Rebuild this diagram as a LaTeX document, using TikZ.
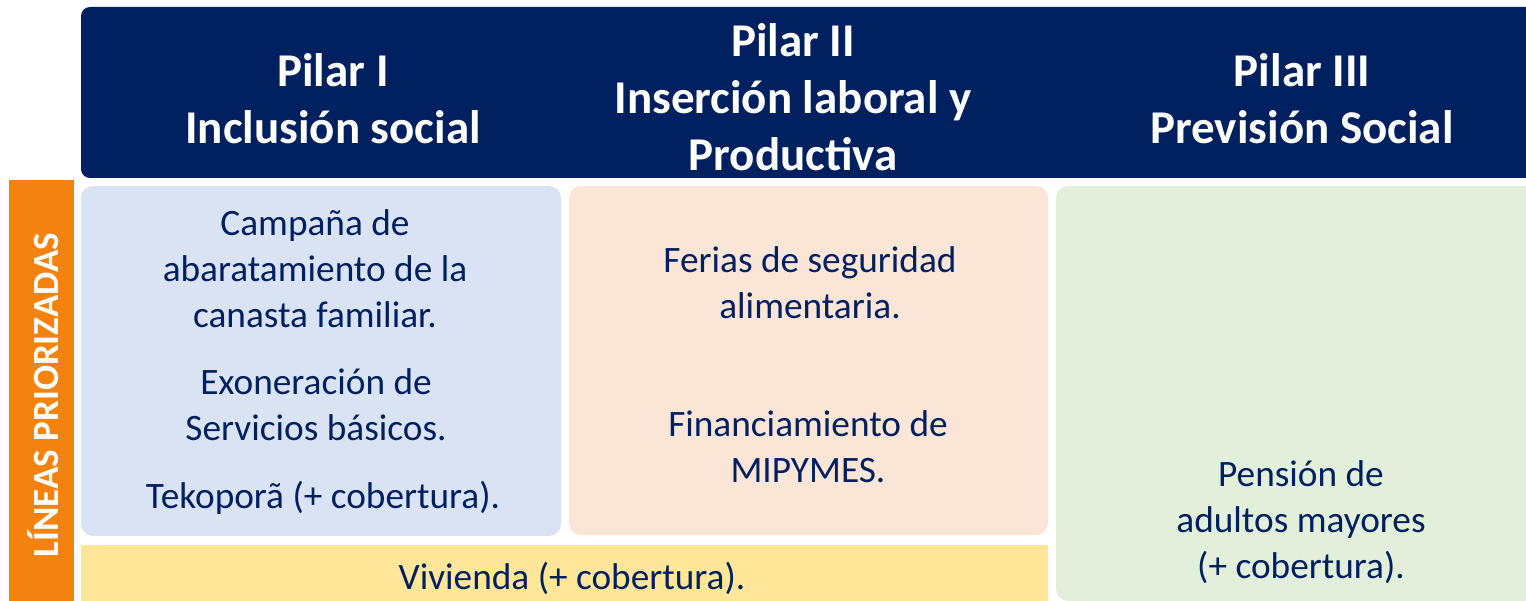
\documentclass[tikz,border=0pt]{standalone}
\usepackage{fontspec}
\setmainfont{Carlito}
\definecolor{navy}{HTML}{002060}
\definecolor{orangebar}{HTML}{F4820F}
\definecolor{boxblue}{HTML}{DAE3F3}
\definecolor{boxpeach}{HTML}{FBE5D6}
\definecolor{boxgreen}{HTML}{E2EFDA}
\definecolor{boxyellow}{HTML}{FFE699}
\tikzset{
  hdrtext/.style={text=white, font=\fontsize{47}{57}\selectfont\bfseries, align=center, inner sep=0pt},
  bodytext/.style={text=navy, font=\fontsize{37.3}{46}\selectfont, align=center, inner sep=0pt},
  panel/.style={rounded corners=12pt},
}
\begin{document}
\begin{tikzpicture}[x=1pt,y=-1pt]
\useasboundingbox (0,0) rectangle (1526,601);
\clip (0,0) rectangle (1526,601);
% header
\fill[navy, rounded corners=9pt] (81,7) rectangle (1560,178);
% orange side bar
\fill[orangebar] (9,180) rectangle (74,620);
\node[text=white, font=\fontsize{37}{44}\selectfont\bfseries, rotate=90, inner sep=0pt] (lineas) at (43,395) {LÍNEAS PRIORIZADAS};
% panels
\fill[boxblue, panel] (81,186) rectangle (561,536);
\fill[boxpeach, panel] (569,186) rectangle (1048,535);
\fill[boxgreen, panel] (1056,186) rectangle (1560,601);
\fill[boxyellow] (81,545) rectangle (1048,620);
% header texts
\node[hdrtext] (p1) at (333,99) {Pilar I\\Inclusión social};
\node[hdrtext] (p2) at (793,97) {Pilar II\\Inserción laboral y\\Productiva};
\node[hdrtext] (p3) at (1302,99) {Pilar III\\Previsión Social};
% body texts
\node[bodytext] (b1) at (315,269) {Campaña de\\abaratamiento de la\\canasta familiar.};
\node[bodytext] (b2) at (316,405) {Exoneración de\\Servicios básicos.};
\node[bodytext] (b3) at (323,498) {Tekoporã (+ cobertura).};
\node[bodytext] (c1) at (810,283) {Ferias de seguridad\\alimentaria.};
\node[bodytext] (c2) at (808,447) {Financiamiento de\\MIPYMES.};
\node[bodytext] (g1) at (1301,522) {Pensión de\\adultos mayores\\(+ cobertura).};
\node[bodytext] (y1) at (572,578) {Vivienda (+ cobertura).};
\end{tikzpicture}
\end{document}
